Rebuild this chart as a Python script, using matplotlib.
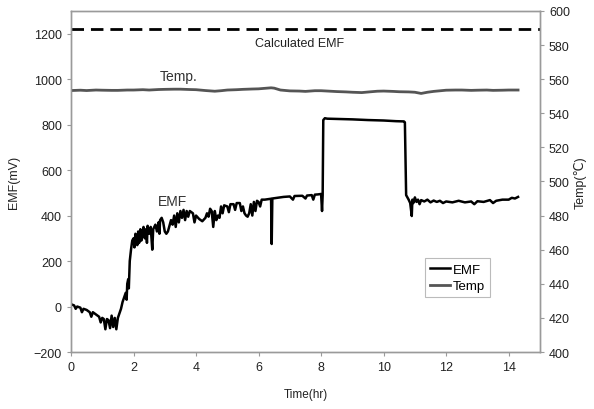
import matplotlib
matplotlib.use("Agg")
import matplotlib.pyplot as plt

plt.rcParams["font.family"] = ["Liberation Sans", "DejaVu Sans"]

# EMF trace (mV, left axis)
emf_t = [0.00, 0.10, 0.15, 0.20, 0.30, 0.35, 0.40, 0.50, 0.60, 0.65, 0.70, 0.80,
         0.90, 0.95, 1.00, 1.05, 1.10, 1.15, 1.20, 1.25, 1.30, 1.35, 1.40, 1.45,
         1.50, 1.55, 1.60, 1.65, 1.70, 1.75, 1.78, 1.80, 1.83, 1.85, 1.88, 1.92,
         1.96, 2.00, 2.03, 2.06, 2.10, 2.12, 2.15, 2.18, 2.22, 2.25, 2.28, 2.32,
         2.36, 2.40, 2.43, 2.45, 2.50, 2.55, 2.60, 2.63, 2.70, 2.75, 2.80, 2.83,
         2.85, 2.90, 2.95, 3.00, 3.05, 3.10, 3.20, 3.25, 3.30, 3.35, 3.40, 3.45,
         3.50, 3.55, 3.60, 3.65, 3.70, 3.75, 3.80, 3.90, 3.95, 4.00, 4.10, 4.20,
         4.30, 4.35, 4.40, 4.45, 4.50, 4.55, 4.60, 4.65, 4.70, 4.75, 4.80, 4.85,
         4.90, 5.00, 5.05, 5.10, 5.20, 5.25, 5.30, 5.40, 5.45, 5.50, 5.55, 5.60,
         5.65, 5.70, 5.75, 5.80, 5.85, 5.90, 5.95, 6.00, 6.05, 6.10, 6.20, 6.30,
         6.40, 6.42, 6.44, 6.60, 6.80, 7.00, 7.10, 7.15, 7.40, 7.50, 7.55, 7.70,
         7.75, 7.80, 7.90, 8.00, 8.03, 8.05, 8.07, 8.12, 8.20, 8.50, 9.00, 9.50,
         10.00, 10.40, 10.65, 10.68, 10.72, 10.76, 10.80, 10.85, 10.90, 10.92,
         10.95, 11.00, 11.05, 11.10, 11.15, 11.20, 11.30, 11.40, 11.50, 11.60,
         11.70, 11.80, 11.90, 12.00, 12.20, 12.40, 12.60, 12.80, 12.90, 13.00,
         13.20, 13.40, 13.50, 13.60, 13.80, 14.00, 14.10, 14.20, 14.30]
emf_mv = [10, 5, -10, 0, -5, -25, -10, -15, -25, -45, -25, -35,
          -45, -70, -50, -55, -100, -55, -60, -95, -40, -90, -50, -100,
          -50, -30, -10, 20, 40, 60, 30, 100, 120, 80, 200, 250,
          290, 300, 260, 320, 310, 270, 330, 280, 340, 290, 310, 350,
          300, 340, 280, 355, 320, 350, 250, 340, 360, 330, 370, 320,
          380, 390, 370, 330, 320, 330, 380, 360, 400, 350, 410, 370,
          420, 390, 425, 380, 420, 395, 420, 410, 370, 400, 385, 375,
          390, 410, 395, 430, 420, 350, 420, 380, 400, 390, 440, 410,
          445, 440, 415, 450, 450, 425, 455, 455, 420, 440, 410, 400,
          395, 410, 450, 400, 460, 420, 465, 460, 440, 470, 470, 472,
          474, 275, 475, 478, 482, 484, 470, 486, 487, 475, 488, 490,
          470, 492, 493, 495, 420, 490, 820, 828, 826, 825, 823, 820,
          818, 815, 814, 810, 490, 480, 470, 455, 398, 470,
          455, 480, 460, 470, 450, 468, 462, 470, 458, 466,
          460, 465, 455, 462, 458, 465, 458, 462, 450, 463,
          460, 468, 455, 465, 470, 470, 478, 475, 482]

# Temperature trace (deg C, right axis)
temp_t = [0.0, 0.3, 0.5, 0.8, 1.0, 1.3, 1.5, 1.8, 2.0, 2.3, 2.5, 2.8, 3.0, 3.3,
          3.5, 3.8, 4.0, 4.3, 4.6, 4.8, 5.0, 5.3, 5.5, 5.8, 6.0, 6.2, 6.4, 6.5,
          6.7, 7.0, 7.3, 7.5, 7.8, 8.0, 8.3, 8.5, 8.8, 9.0, 9.3, 9.6, 9.8, 10.0,
          10.3, 10.5, 10.8, 11.0, 11.2, 11.4, 11.6, 12.0, 12.3, 12.5, 12.8, 13.0,
          13.3, 13.5, 13.8, 14.0, 14.3]
temp_c = [553.3, 553.5, 553.3, 553.6, 553.5, 553.4, 553.4, 553.6, 553.6, 553.8,
          553.6, 553.9, 554.0, 554.1, 554.1, 553.9, 553.8, 553.3, 552.9, 553.2,
          553.6, 553.8, 554.0, 554.2, 554.3, 554.6, 554.9, 554.7, 553.6, 553.1,
          553.0, 552.8, 553.2, 553.2, 552.9, 552.7, 552.5, 552.3, 552.1, 552.6,
          552.9, 553.0, 552.8, 552.6, 552.5, 552.3, 551.6, 552.3, 552.8, 553.5,
          553.6, 553.6, 553.4, 553.5, 553.6, 553.4, 553.5, 553.6, 553.6]

calc_emf = 1220
emf_ticks = [-200, 0, 200, 400, 600, 800, 1000, 1200]
temp_ticks = [400, 420, 440, 460, 480, 500, 520, 540, 560, 580, 600]
time_ticks = [0, 2, 4, 6, 8, 10, 12, 14]

GREY_SPINE = "#9a9a9a"
TXT = "#222222"

fig = plt.figure(figsize=(5.94, 4.10), dpi=100)
ax = fig.add_axes([0.1195, 0.139, 0.7895, 0.832])
ax2 = ax.twinx()

l_emf, = ax.plot(emf_t, emf_mv, color="black", lw=1.8, label="EMF", zorder=3)
l_tmp, = ax2.plot(temp_t, temp_c, color="#555555", lw=2.0, label="Temp")
ax.axhline(calc_emf, color="black", lw=2.0, ls=(0, (4.5, 2.5)))

ax.set_xlim(0, 15)
ax.set_ylim(-200, 1300)
ax2.set_ylim(400, 600)
ax.set_xticks(time_ticks)
ax.set_yticks(emf_ticks)
ax2.set_yticks(temp_ticks)

for a in (ax, ax2):
    for s in a.spines.values():
        s.set_color(GREY_SPINE)
        s.set_linewidth(1.0)
    a.tick_params(labelsize=9, colors=GREY_SPINE, labelcolor=TXT, length=3, width=0.8)

ax.set_xlabel("Time(hr)", fontsize=8.5, color=TXT, labelpad=11)
ax.set_ylabel("EMF(mV)", fontsize=9, color=TXT, labelpad=10)
ax2.set_ylabel("Temp(\u2103)", fontsize=9, color=TXT, labelpad=3)

ax.text(7.3, 1160, "Calculated EMF", fontsize=9, color=TXT, ha="center", va="center")
ax.text(3.45, 1012, "Temp.", fontsize=10, color="#333333", ha="center", va="center")
ax.text(3.25, 466, "EMF", fontsize=10, color="#333333", ha="center", va="center")

leg = ax.legend(handles=[l_emf, l_tmp], loc="lower left",
                bbox_to_anchor=(0.755, 0.16), fontsize=9.5, frameon=True,
                fancybox=False, handlelength=1.5, handletextpad=0.2,
                borderpad=0.4, labelspacing=0.3, borderaxespad=0)
leg.get_frame().set_edgecolor("#aaaaaa")
leg.get_frame().set_linewidth(0.8)

fig.savefig("out.png", dpi=100, facecolor="white")
